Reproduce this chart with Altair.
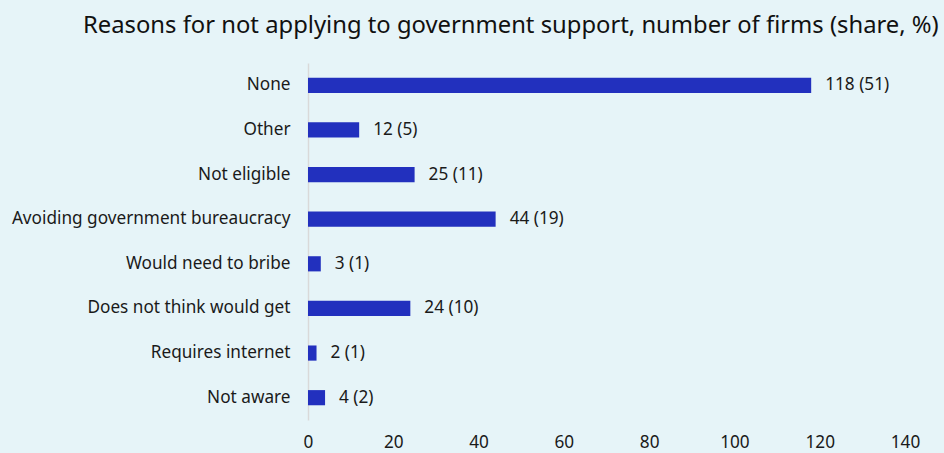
import altair as alt
import pandas as pd

categories = ["None", "Other", "Not eligible", "Avoiding government bureaucracy",
              "Would need to bribe", "Does not think would get", "Requires internet", "Not aware"]
counts = [118, 12, 25, 44, 3, 24, 2, 4]
shares = [51, 5, 11, 19, 1, 10, 1, 2]

df = pd.DataFrame({"reason": categories, "count": counts, "share": shares})
df["label"] = [f"{c} ({s})" for c, s in zip(counts, shares)]

FS = 17.2

base = alt.Chart(df).encode(
    y=alt.Y("reason:N", sort=categories, title=None,
            scale=alt.Scale(paddingInner=0.66, paddingOuter=0.33),
            axis=alt.Axis(domainColor="#d9d9d9", domainWidth=1.5, ticks=False,
                          labelPadding=18, labelFontSize=FS, labelColor="#1a1a1a",
                          labelFont="Noto Sans", labelLimit=400)),
)

bars = base.mark_bar(color="#2230be").encode(
    x=alt.X("count:Q", title=None, scale=alt.Scale(domain=[0, 140], nice=False),
            axis=alt.Axis(values=[0, 20, 40, 60, 80, 100, 120, 140], domain=False, ticks=False,
                          grid=False, labelPadding=13, labelFontSize=FS, labelFlush=False,
                          labelColor="#1a1a1a", labelFont="Noto Sans")),
)

text = base.mark_text(align="left", baseline="middle", dx=14, fontSize=FS,
                      font="Noto Sans", color="#1a1a1a").encode(
    x="count:Q", text="label:N")

chart = (bars + text).properties(
    width=597, height=357,
    title=alt.TitleParams("Reasons for not applying to government support, number of firms (share, %)",
                          anchor="start", frame="group", dx=-225, offset=25,
                          fontSize=23.8, font="Noto Sans", fontWeight="normal", color="#111111"),
    background="#e6f4f8",
    padding={"left": 308, "top": 63, "right": 39, "bottom": 33},
    autosize=alt.AutoSizeParams(type="none"),
).configure_view(stroke=None)

chart.save("out.html", embed_options={"renderer": "svg", "actions": False})
